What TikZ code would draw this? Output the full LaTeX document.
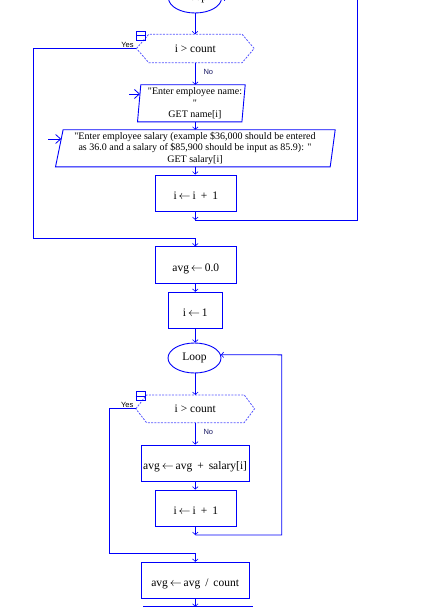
\documentclass[tikz,border=0pt]{standalone}
\usepackage{fontspec}
\setmainfont{Liberation Serif}[Ligatures=TeXOff]
\newfontfamily\lsans{Liberation Sans}
\usetikzlibrary{arrows.meta,shapes.geometric,calc}
\definecolor{fcblue}{RGB}{0,0,250}
\definecolor{hexblue}{RGB}{85,85,255}
\definecolor{navyt}{RGB}{25,25,100}
\begin{document}
\begin{tikzpicture}[x=1pt,y=-1pt,
  flow/.style={draw=fcblue,line width=0.9pt},
  arr/.style={flow,-{Straight Barb[length=2.5pt,width=5.5pt,line width=0.6pt]}},
  inarr/.style={flow,-{Straight Barb[length=5pt,width=9pt,line width=0.8pt]}},
  proc/.style={draw=fcblue,line width=0.9pt,inner sep=0pt,minimum height=36.7pt,
    font=\fontsize{11.5}{13}\selectfont,text height=13pt,text depth=0pt},
  iobody/.style={inner sep=0pt,minimum height=36.7pt,align=center,
    font=\fontsize{10}{11.6}\selectfont},
  hexbody/.style={inner sep=0pt,font=\fontsize{11.5}{13}\selectfont},
  hexline/.style={draw=hexblue,line width=0.8pt,dash pattern=on 2pt off 1.3pt},
  loopnode/.style={ellipse,draw=fcblue,line width=0.9pt,inner sep=0pt,
    minimum width=53pt,minimum height=30pt,font=\fontsize{11.5}{13}\selectfont},
  icon/.style={draw=fcblue,line width=0.9pt,inner sep=0pt,minimum width=9pt,minimum height=8.5pt},
  yeslab/.style={inner sep=0pt,font=\lsans\fontsize{7.5}{9}\selectfont,text=black},
  nolab/.style={inner sep=0pt,font=\lsans\fontsize{7.5}{9}\selectfont,text=navyt}]
\useasboundingbox (0,0) rectangle (443,609);
\clip (0,0) rectangle (443,609);

% ---------- first loop ----------
\node[loopnode] (loopA) at (195,-2) {Loop};
\node[hexbody,minimum width=117.3pt,minimum height=28pt] (hexA) at (195.3,48.5) {i > count};
\draw[hexline] (hexA.west) -- ([xshift=12.3pt]hexA.north west) -- ([xshift=-12pt]hexA.north east)
  -- (hexA.east) -- ([xshift=-12pt]hexA.south east) -- ([xshift=12.3pt]hexA.south west) -- cycle;
\node[icon] (iconA) at (141.2,35.8) {};
\draw[flow,line width=0.7pt] (iconA.west) -- (iconA.east);
\node[yeslab] (yesA) at (127.5,44.5) {Yes};
\node[nolab] (noA) at (208.3,71.7) {No};

\node[iobody,minimum width=100pt] (p1) at (195,103.35) {"Enter employee name:\\"\\GET name[i]};
\draw[flow] ([xshift=-4pt]p1.north west) -- (p1.north east) -- ([xshift=-3.3pt]p1.south east)
  -- ([xshift=-7.3pt]p1.south west) -- cycle;
\coordinate (in1) at (129,94);
\draw[inarr] (in1) -- ($(in1 -| p1.west)+(-4.8,0)$);

\node[iobody,minimum width=270pt] (p2) at (195,148.35)
  {"Enter employee salary (example \$36,000 should be entered\\as 36.0 and a salary of \$85,900 should be input as 85.9): "\\GET salary[i]};
\draw[flow] ([xshift=3.3pt]p2.north west) -- ([xshift=5pt]p2.north east) -- (p2.south east)
  -- ([xshift=-4.3pt]p2.south west) -- cycle;
\coordinate (in2) at (48,139);
\draw[inarr] (in2) -- ($(in2 -| p2.west)+(1.4,0)$);

\node[proc,minimum width=81.7pt] (incA) at (195.8,193.35) {i\,$\leftarrow$\,i\hspace{5pt}+\hspace{5pt}1};
\coordinate (jA) at (195.3,220);
\coordinate (rA) at (357.5,-2);
\coordinate (lA) at (33.3,238.3);

\draw[arr] (loopA.south) -- (loopA.south |- hexA.north);
\draw[arr] (hexA.south) -- (hexA.south |- p1.north);
\draw[arr] (hexA.south |- p1.south) -- (hexA.south |- p2.north);
\draw[arr] (hexA.south |- p2.south) -- (hexA.south |- incA.north);
\draw[arr] (hexA.south |- incA.south) -- (jA);
\draw[arr] (jA) -| (rA) -- (loopA.east);
\draw[flow] (hexA.west) -| (lA);

% ---------- middle ----------
\node[proc,minimum width=81.7pt] (avgZ) at (195.8,265.15) {avg\,$\leftarrow$\,0.0};
\node[proc,minimum width=54pt,minimum height=36pt,text height=11.5pt] (iOne) at (195.3,310.3) {i\,$\leftarrow$\,1};
\draw[arr] (lA) -| (jA |- avgZ.north);
\draw[arr] (jA |- avgZ.south) -- (jA |- iOne.north);

% ---------- second loop ----------
\node[loopnode] (loopB) at (194.5,358) {Loop};
\node[hexbody,minimum width=118.3pt,minimum height=27.3pt] (hexB) at (195.2,408.8) {i > count};
\draw[hexline] (hexB.west) -- ([xshift=10.7pt]hexB.north west) -- ([xshift=-10.3pt]hexB.north east)
  -- (hexB.east) -- ([xshift=-10.3pt]hexB.south east) -- ([xshift=10.7pt]hexB.south west) -- cycle;
\node[icon,minimum width=9.7pt,minimum height=9pt] (iconB) at (140.8,396.2) {};
\draw[flow,line width=0.7pt] (iconB.west) -- (iconB.east);
\node[yeslab] (yesB) at (127.2,405) {Yes};
\node[nolab] (noB) at (208.3,431.7) {No};

\node[proc,minimum width=108.3pt] (sumB) at (195.15,463.35) {avg\,$\leftarrow$\,avg\hspace{5pt}+\hspace{5pt}salary[i]};
\node[proc,minimum width=81.7pt] (incB) at (195.8,508.35) {i\,$\leftarrow$\,i\hspace{5pt}+\hspace{5pt}1};
\node[proc,minimum width=108.3pt,minimum height=36pt] (divB) at (195.15,580.3) {avg\,$\leftarrow$\,avg\hspace{5pt}/\hspace{5pt}count};

\coordinate (jB) at (195.3,535);
\coordinate (rB) at (281.7,354.8);
\coordinate (lB) at (109.3,553.3);
\coordinate (endB) at (195.3,606.7);
\coordinate (barL) at (143.3,606.7);
\coordinate (barR) at (253.3,606.7);

\draw[arr] (jA |- iOne.south) -- (jA |- loopB.north);
\draw[arr] (jA |- loopB.south) -- (jA |- hexB.north);
\draw[arr] (jA |- hexB.south) -- (jA |- sumB.north);
\draw[arr] (jA |- sumB.south) -- (jA |- incB.north);
\draw[arr] (jA |- incB.south) -- (jB);
\draw[arr] (jB) -| (rB) -- (loopB.7);
\draw[flow] (hexB.west) -| (lB);
\draw[arr] (lB) -| (jA |- divB.north);
\draw[arr] (jA |- divB.south) -- (endB);
\draw[flow] (barL) -- (barR);
\end{tikzpicture}
\end{document}
